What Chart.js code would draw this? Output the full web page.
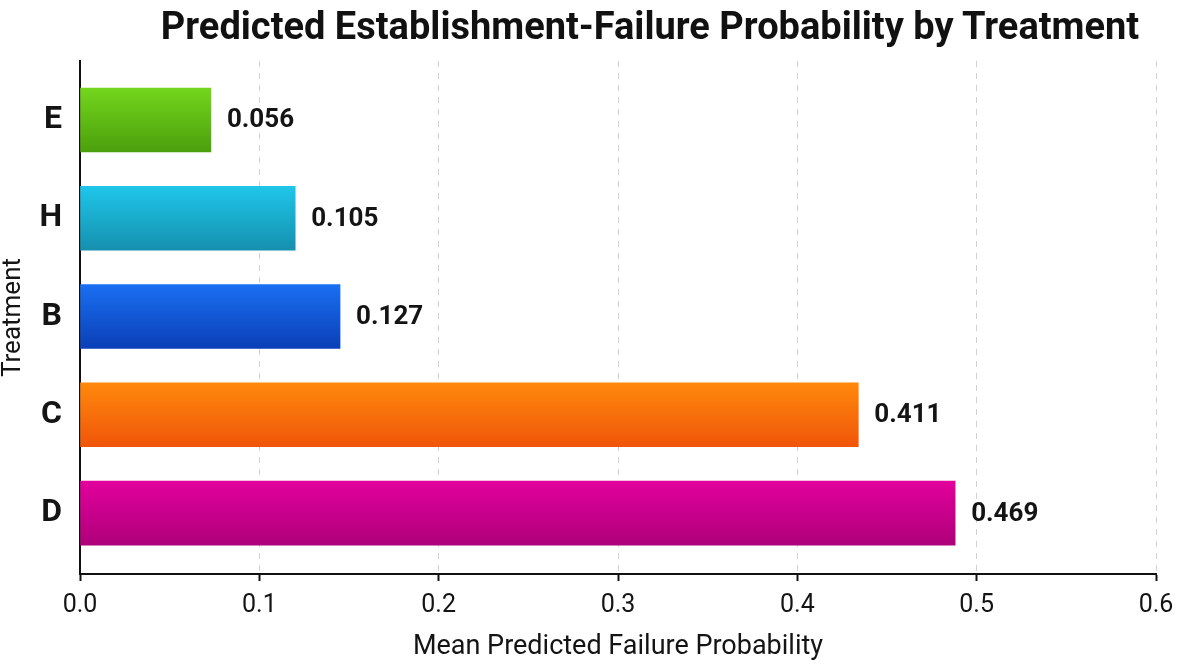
<!DOCTYPE html>
<html>
<head>
<meta charset="utf-8">
<script src="https://cdn.jsdelivr.net/npm/chart.js@4.4.1/dist/chart.umd.min.js"></script>
<style>
  html, body { margin: 0; padding: 0; background: #fff; }
  #wrap { position: relative; width: 1180px; height: 665px; }
  #title {
    position: absolute; left: 150px; width: 1000px; top: 4px;
    text-align: center; white-space: nowrap;
    font-family: "Liberation Sans Narrow", "Roboto", sans-serif;
    font-weight: bold; font-size: 38px; color: #111;
  }
  canvas { position: absolute; left: 0; top: 0; }
</style>
</head>
<body>
<div id="wrap">
  <canvas id="chart" width="1180" height="665"></canvas>
  <div id="title">Predicted Establishment-Failure Probability by Treatment</div>
</div>
<script>
/* ---------- data ---------- */
const categories  = ['E', 'H', 'B', 'C', 'D'];
const barValues   = [0.073, 0.120, 0.145, 0.434, 0.488];   // bar lengths as drawn
const valueLabels = ['0.056', '0.105', '0.127', '0.411', '0.469'];
const xTicks      = [0, 0.1, 0.2, 0.3, 0.4, 0.5, 0.6];
const topColors   = ['#74d61c', '#1fc6ea', '#1a6ff2', '#ff890c', '#e2009c'];
const botColors   = ['#4b9f0c', '#1590ae', '#0a3fb6', '#ef5508', '#ae007a'];

const TEXT = '#141414';
Chart.defaults.font.family = 'Roboto, "Liberation Sans", sans-serif';
Chart.defaults.color = TEXT;

function barGradient(ctx) {
  const chart = ctx.chart;
  const i = ctx.dataIndex;
  if (!chart.chartArea || ctx.type !== 'data') return topColors[i];
  const y = chart.scales.y.getPixelForValue(i);
  const g = chart.ctx.createLinearGradient(0, y - 32, 0, y + 32);
  g.addColorStop(0, topColors[i]);
  g.addColorStop(1, botColors[i]);
  return g;
}

// value text right of each bar
const valueLabelPlugin = {
  id: 'valueLabels',
  afterDatasetsDraw(chart) {
    const { ctx } = chart;
    const meta = chart.getDatasetMeta(0);
    ctx.save();
    ctx.font = 'bold 26px Roboto, "Liberation Sans", sans-serif';
    ctx.fillStyle = TEXT;
    ctx.textAlign = 'left';
    ctx.textBaseline = 'middle';
    meta.data.forEach((bar, i) => {
      ctx.fillText(valueLabels[i], bar.x + 16, bar.y + 1);
    });
    ctx.restore();
  }
};

new Chart(document.getElementById('chart').getContext('2d'), {
  type: 'bar',
  data: {
    datasets: [{
      data: categories.map((c, i) => ({ x: barValues[i], y: i })),
      backgroundColor: barGradient,
      borderWidth: 0,
      barThickness: 64
    }]
  },
  options: {
    indexAxis: 'y',
    responsive: false,
    animation: false,
    layout: { padding: { top: 61, right: 24, left: 0, bottom: 0 } },
    plugins: {
      legend:  { display: false },
      tooltip: { enabled: false },
      title:   { display: false }
    },
    scales: {
      x: {
        type: 'linear',
        min: 0, max: 0.6,
        afterFit: s => { s.height = 91; s.paddingRight = 0; s.paddingLeft = 0; },
        afterBuildTicks: s => { s.ticks = xTicks.map(v => ({ value: v })); },
        ticks: {
          callback: v => v.toFixed(1),
          font: { size: 25 },
          color: TEXT,
          padding: 10
        },
        grid: {
          color: '#d2d2d2',
          lineWidth: 1,
          tickColor: '#111',
          tickWidth: 2,
          tickLength: 7,
          tickBorderDash: []
        },
        border: { display: true, color: '#111', width: 2, dash: [6, 6] },
        title: {
          display: true,
          text: 'Mean Predicted Failure Probability',
          font: { size: 27 },
          color: TEXT,
          padding: { top: 0, bottom: 2 }
        }
      },
      y: {
        type: 'linear',
        reverse: true,
        offset: false,
        min: -0.6, max: 4.62,
        afterFit: s => { s.width = 80; },
        afterBuildTicks: s => { s.ticks = categories.map((c, i) => ({ value: i })); },
        ticks: {
          callback: v => categories[v],
          font: { size: 32, weight: 'bold' },
          color: TEXT,
          padding: 10
        },
        grid: { display: false, offset: false },
        border: { display: true, color: '#111', width: 2 },
        title: {
          display: true,
          text: 'Treatment',
          font: { size: 26, lineHeight: 1 },
          color: TEXT,
          padding: 0
        }
      }
    }
  },
  plugins: [valueLabelPlugin]
});
</script>
</body>
</html>
